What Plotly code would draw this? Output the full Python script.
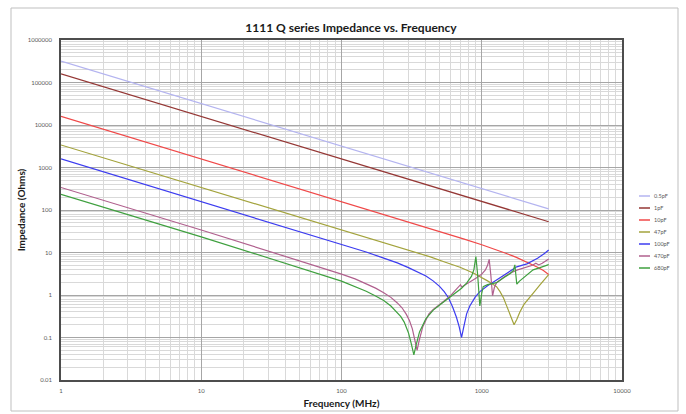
import plotly.graph_objects as go

# ---------------- data ----------------
series_names = ["0.5pF", "1pF", "10pF", "47pF", "100pF", "470pF", "680pF"]
series_colors = ["#B4B4F0", "#953735", "#F04848", "#A3A33C", "#3C3CF0", "#B0608E", "#3FA03F"]

freq_05pF = [1, 10, 100, 1000, 3000]
imp_05pF = [318000, 31800, 3180, 318, 106]

freq_1pF = [1, 10, 100, 1000, 3000]
imp_1pF = [159000, 15900, 1590, 159, 53]

freq_10pF = [1, 10, 100, 300, 500, 750, 1000, 1250, 1500, 1750, 2000, 2250, 2500, 2750, 3000]
imp_10pF = [15900, 1590, 159, 52.8, 31.4, 20.7, 15.2, 11.9, 9.5, 7.8, 6.45, 5.4, 4.5, 3.75, 3.05]

freq_47pF = [1, 10, 100, 200, 300, 430, 550, 700, 870, 970, 1100, 1200, 1275, 1350, 1430,
             1500, 1570, 1630, 1700, 1780, 1870, 2000, 2200, 2400, 2600, 2800, 3000]
imp_47pF = [3390, 339, 33.8, 16.8, 11.1, 7.9, 5.9, 4.5, 3.3, 2.75, 2.15, 1.8, 1.57, 1.2, 0.85,
            0.57, 0.38, 0.26, 0.2, 0.27, 0.40, 0.6, 0.91, 1.25, 1.72, 2.3, 3.0]

freq_100pF = [1, 10, 100, 150, 200, 250, 300, 350, 400, 450, 500, 540, 580, 620, 660, 690,
              718, 745, 780, 822, 860, 900, 970, 1100, 1275, 1500, 1775, 2100, 2500, 2800, 3000]
imp_100pF = [1590, 159, 15.6, 10.3, 7.35, 5.7, 4.4, 3.5, 2.8, 2.15, 1.6, 1.2, 0.85, 0.52, 0.3,
             0.18, 0.1, 0.18, 0.36, 0.55, 0.73, 0.9, 1.2, 1.65, 2.25, 3.2, 4.6, 5.4, 7.3, 9.5, 11.5]

freq_470pF = [1, 10, 100, 125, 150, 175, 200, 225, 250, 270, 290, 305, 320, 335, 346, 358,
              380, 420, 451, 520, 593, 650, 706, 720, 800, 908, 1000, 1062, 1100, 1130, 1160,
              1194, 1230, 1275, 1450, 1600, 1800, 2000, 2300, 2430, 2550, 2700, 2850, 3000]
imp_470pF = [339, 33.9, 3.1, 2.4, 1.83, 1.45, 1.13, 0.88, 0.65, 0.5, 0.35, 0.25, 0.16, 0.085,
             0.05, 0.085, 0.18, 0.36, 0.46, 0.66, 0.93, 1.3, 1.75, 1.55, 1.9, 2.47, 3.1, 3.9,
             5.0, 6.9, 3.0, 0.96, 1.5, 1.95, 2.7, 3.3, 3.9, 4.3, 5.0, 5.6, 5.1, 5.6, 6.2, 7.0]

freq_680pF = [1, 10, 100, 125, 150, 175, 200, 225, 250, 265, 280, 300, 315, 328, 340, 360,
              400, 451, 520, 593, 650, 718, 780, 846, 880, 908, 935, 969, 1000, 1024, 1100,
              1275, 1450, 1600, 1680, 1722, 1750, 1778, 1850, 2000, 2324, 2600, 3000]
imp_680pF = [234, 23.4, 2.12, 1.6, 1.23, 0.95, 0.74, 0.55, 0.39, 0.31, 0.23, 0.13, 0.07,
             0.039, 0.065, 0.135, 0.28, 0.44, 0.64, 0.9, 1.15, 1.44, 1.9, 2.77, 4.0, 8.0,
             3.0, 0.55, 1.1, 1.57, 1.75, 1.95, 2.6, 3.2, 3.8, 5.1, 3.0, 1.8, 2.1, 2.6, 3.9,
             4.4, 5.2]

x_tick_vals = [1, 10, 100, 1000, 10000]
x_tick_text = ["1", "10", "100", "1000", "10000"]
y_tick_vals = [0.01, 0.1, 1, 10, 100, 1000, 10000, 100000, 1000000]
y_tick_text = ["0.01", "0.1", "1", "10", "100", "1000", "10000", "100000", "1000000"]

chart_title = "1111 Q series Impedance vs. Frequency"
x_title = "Frequency (MHz)"
y_title = "Impedance (Ohms)"

# ---------------- figure ----------------
all_freq = [freq_05pF, freq_1pF, freq_10pF, freq_47pF, freq_100pF, freq_470pF, freq_680pF]
all_imp = [imp_05pF, imp_1pF, imp_10pF, imp_47pF, imp_100pF, imp_470pF, imp_680pF]

W, H = 686, 414
ML, MR, MT, MB = 61, 64, 40, 34
PW, PH = W - ML - MR, H - MT - MB

def px_x(p):
    return (p - ML) / PW

def px_y(p):
    return (H - MB - p) / PH

fig = go.Figure()
for name, f, z, c in zip(series_names, all_freq, all_imp, series_colors):
    fig.add_trace(go.Scatter(x=f, y=z, mode="lines", name=name,
                             line=dict(color=c, width=1.2), showlegend=False,
                             hoverinfo="x+y+name"))

font_family = "Lato, 'Open Sans', sans-serif"
tick_font = dict(family=font_family, size=6, color="#595959")

fig.update_layout(
    width=W, height=H,
    margin=dict(l=ML, r=MR, t=MT, b=MB, autoexpand=False),
    paper_bgcolor="white", plot_bgcolor="white",
    font=dict(family=font_family),
    title=dict(text="<b>" + chart_title + "</b>", x=351 / W, xanchor="center",
               y=1 - 28 / H, yanchor="middle", yref="container",
               font=dict(size=12, color="#1a1a1a")),
    showlegend=False,
)

fig.update_xaxes(
    type="log", range=[0, 4], tickmode="array", tickvals=x_tick_vals, ticktext=x_tick_text,
    showgrid=True, gridcolor="#A6A6A6", gridwidth=1, automargin=False,
    minor=dict(dtick="D1", showgrid=True, gridcolor="#D9D9D9", gridwidth=1, ticks=""),
    showline=True, linecolor="#4D4D4D", linewidth=1.5, mirror=True,
    ticks="", tickfont=tick_font, zeroline=False, ticklabelstandoff=4,
    title=dict(text="<b>" + x_title + "</b>", standoff=7,
               font=dict(size=10, color="#1a1a1a")),
)
fig.update_yaxes(
    type="log", range=[-2, 6], tickmode="array", tickvals=y_tick_vals, ticktext=y_tick_text,
    showgrid=True, gridcolor="#A6A6A6", gridwidth=1, automargin=False,
    minor=dict(dtick="D1", showgrid=True, gridcolor="#D9D9D9", gridwidth=1, ticks=""),
    showline=True, linecolor="#4D4D4D", linewidth=1.5, mirror=True,
    ticks="", tickfont=tick_font, zeroline=False, ticklabelstandoff=6,
    title=dict(text="<b>" + y_title + "</b>", standoff=0,
               font=dict(size=10, color="#1a1a1a")),
)

# outer chart border
fig.add_shape(type="rect", xref="paper", yref="paper",
              x0=px_x(11), x1=px_x(678), y0=px_y(411), y1=px_y(8),
              line=dict(color="#BFBFBF", width=1), layer="below")

# compact legend (as in the reference)
for i, (name, c) in enumerate(zip(series_names, series_colors)):
    yy = px_y(196 + 12 * i)
    fig.add_shape(type="line", xref="paper", yref="paper",
                  x0=px_x(639), x1=px_x(650), y0=yy, y1=yy,
                  line=dict(color=c, width=1.5))
    fig.add_annotation(x=px_x(652), y=yy, xref="paper", yref="paper",
                       text=name, showarrow=False, xanchor="left", yanchor="middle",
                       font=dict(family=font_family, size=5.5, color="#595959"))

fig.write_html("out.html", config={"displayModeBar": False},
               post_script="document.body.style.margin='0px';document.body.style.overflow='hidden';")
